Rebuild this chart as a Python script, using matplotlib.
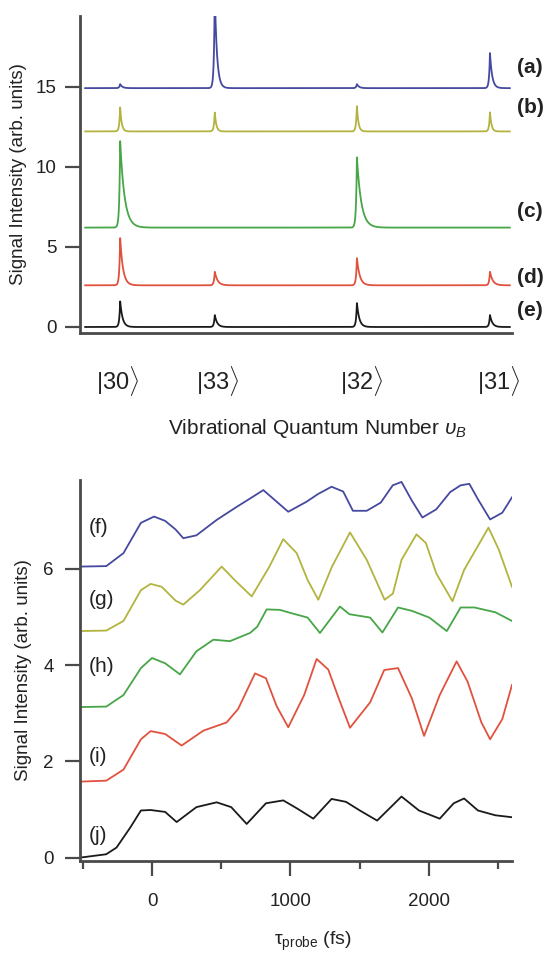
import numpy as np
import matplotlib
matplotlib.use("Agg")
import matplotlib.pyplot as plt
from matplotlib.ticker import FixedLocator

plt.rcParams['font.family'] = ['Liberation Sans', 'DejaVu Sans']
plt.rcParams['mathtext.fontset'] = 'custom'
plt.rcParams['mathtext.rm'] = 'Liberation Sans'
plt.rcParams['mathtext.it'] = 'Liberation Sans:italic'

# ---------------- data: top panel (spectra) ----------------
states = ["30", "33", "32", "31"]
state_pos = [9.3, 31.2, 64.1, 94.9]          # peak positions along detection axis (arb.)
label_pos = [8.8, 31.9, 65.3, 96.8]          # ket label positions
spec_labels = ["(a)", "(b)", "(c)", "(d)", "(e)"]
spec_offsets = [14.9, 12.2, 6.2, 2.6, 0.0]
peaks_a = [0.25, 6.0, 0.25, 2.2]
peaks_b = [1.5, 1.2, 1.6, 1.2]
peaks_c = [5.4, 0.0, 4.4, 0.0]
peaks_d = [2.95, 0.85, 1.7, 0.85]
peaks_e = [1.6, 0.75, 1.5, 0.75]
peak_tails = [0.5, 0.35, 1.0, 0.65, 0.55]
spec_label_y = [16.2, 13.7, 7.2, 3.1, 1.05]

# ---------------- data: bottom panel (transients) ----------------
f_t = [-520, -330, -206, -80, 15, 95, 171, 226, 321, 467, 611, 700, 804, 900, 984, 1117, 1200,
       1297, 1381, 1451, 1551, 1652, 1739, 1802, 1877, 1953, 2053, 2154, 2229, 2292, 2354, 2442,
       2530, 2600]
f_v = [6.05, 6.06, 6.33, 6.96, 7.09, 7.0, 6.82, 6.64, 6.70, 7.02, 7.29, 7.45, 7.64, 7.40, 7.19,
       7.40, 7.56, 7.71, 7.61, 7.21, 7.21, 7.38, 7.74, 7.81, 7.42, 7.07, 7.24, 7.6, 7.74, 7.77,
       7.45, 7.03, 7.17, 7.49]
g_t = [-520, -330, -206, -80, -10, 70, 171, 226, 346, 503, 597, 720, 848, 948, 1045, 1124, 1201,
       1300, 1430, 1551, 1680, 1740, 1802, 1910, 1978, 2053, 2170, 2254, 2430, 2505, 2600]
g_v = [4.71, 4.72, 4.92, 5.56, 5.69, 5.63, 5.34, 5.26, 5.56, 6.05, 5.77, 5.43, 6.05, 6.62, 6.33,
       5.77, 5.36, 6.05, 6.76, 6.19, 5.36, 5.49, 6.19, 6.72, 6.54, 5.91, 5.33, 5.98, 6.86, 6.40,
       5.63]
h_t = [-520, -330, -206, -80, 0, 95, 202, 321, 443, 563, 708, 760, 828, 924, 996, 1124, 1213,
       1357, 1426, 1576, 1664, 1777, 1877, 2003, 2129, 2229, 2329, 2480, 2600]
h_v = [3.13, 3.14, 3.38, 3.94, 4.15, 4.04, 3.81, 4.29, 4.53, 4.50, 4.67, 4.80, 5.16, 5.15, 5.09,
       4.99, 4.67, 5.22, 5.06, 4.99, 4.68, 5.2, 5.13, 4.99, 4.71, 5.2, 5.2, 5.1, 4.92]
i_t = [-520, -330, -206, -80, -10, 95, 214, 371, 539, 622, 744, 823, 900, 984, 1099, 1189, 1273,
       1350, 1430, 1576, 1677, 1777, 1877, 1965, 2078, 2200, 2279, 2379, 2442, 2530, 2600]
i_v = [1.58, 1.6, 1.83, 2.46, 2.63, 2.57, 2.33, 2.64, 2.81, 3.09, 3.83, 3.73, 3.15, 2.71, 3.38,
       4.13, 3.91, 3.3, 2.70, 3.23, 3.90, 3.94, 3.31, 2.53, 3.38, 4.08, 3.66, 2.81, 2.46, 2.88,
       3.59]
j_t = [-520, -331, -256, -156, -80, -10, 95, 178, 321, 467, 572, 684, 823, 948, 1049, 1165, 1297,
       1401, 1501, 1626, 1802, 1928, 2078, 2179, 2254, 2354, 2480, 2600]
j_v = [0.0, 0.07, 0.21, 0.63, 0.98, 0.99, 0.95, 0.74, 1.05, 1.15, 1.05, 0.70, 1.13, 1.19, 1.02,
       0.81, 1.22, 1.16, 0.98, 0.77, 1.27, 0.98, 0.81, 1.13, 1.23, 0.98, 0.88, 0.84]
trans_labels = ["(f)", "(g)", "(h)", "(i)", "(j)"]
trans_label_y = [6.87, 5.36, 3.98, 2.11, 0.46]

colors = ["#45499f", "#b3b33f", "#47a647", "#e0523e", "#1a1a1a"]
spine_c = "#4a4a4a"
txt_c = "#222222"

fig = plt.figure(figsize=(5.47, 9.56), dpi=100)

# ---------------- top panel ----------------
ax1 = fig.add_axes([80 / 547, 1 - 333 / 956, 432 / 547, 317 / 956])
x = np.linspace(1.2, 99.5, 5000)
all_peaks = [peaks_a, peaks_b, peaks_c, peaks_d, peaks_e]
for k, (pk, off) in enumerate(zip(all_peaks, spec_offsets)):
    y = np.full_like(x, off)
    for p0, h in zip(state_pos, pk):
        d = x - p0
        y += h * np.where(d >= 0, np.exp(-d / peak_tails[k]), np.exp(d / 0.2))
    ax1.plot(x, y, color=colors[k], lw=1.3)
    ax1.text(101.2, spec_label_y[k], spec_labels[k], fontsize=15, fontweight='bold',
             color=txt_c, va='center', ha='left', clip_on=False)
ax1.set_xlim(0, 100)
ax1.set_ylim(-0.375, 19.4)
ax1.set_yticks([0, 5, 10, 15])
ax1.set_xticks(label_pos)
ax1.set_xticklabels([r"$|$" + s + r"$\rangle$" for s in states], fontsize=17)
ax1.tick_params(axis='x', length=0, pad=22, colors=txt_c)
ax1.tick_params(axis='y', length=11, width=1.6, direction='out', pad=6, labelsize=13.5,
                color=spine_c, labelcolor=txt_c)
ax1.set_ylabel("Signal Intensity (arb. units)", fontsize=13.5, color=txt_c, labelpad=6)
ax1.set_xlabel(r"Vibrational Quantum Number $\upsilon_B$", fontsize=15, color=txt_c)
ax1.xaxis.set_label_coords(0.55, -0.265)
for s in ['top', 'right']:
    ax1.spines[s].set_visible(False)
for s in ['left', 'bottom']:
    ax1.spines[s].set_color(spine_c)
    ax1.spines[s].set_linewidth(2)

# ---------------- bottom panel ----------------
ax2 = fig.add_axes([80 / 547, 1 - 861 / 956, 432 / 547, 381 / 956])
series = [(f_t, f_v), (g_t, g_v), (h_t, h_v), (i_t, i_v), (j_t, j_v)]
for k, (tt, vv) in enumerate(series):
    ax2.plot(tt, vv, color=colors[k], lw=1.3)
    ax2.text(-455, trans_label_y[k], trans_labels[k], fontsize=15, color=txt_c,
             va='center', ha='left')
ax2.set_xlim(-520, 2600)
ax2.set_ylim(-0.07, 7.85)
ax2.set_yticks([0, 2, 4, 6])
ax2.set_xticks([0, 1000, 2000])
ax2.xaxis.set_minor_locator(FixedLocator([-500, 500, 1500, 2500]))
ax2.tick_params(axis='x', which='major', length=11, width=1.6, direction='out', pad=12,
                labelsize=13.5, color=spine_c, labelcolor=txt_c)
ax2.tick_params(axis='x', which='minor', length=6, width=1.6, direction='out', color=spine_c)
ax2.tick_params(axis='y', length=11, width=1.6, direction='out', pad=8, labelsize=13.5,
                color=spine_c, labelcolor=txt_c)
ax2.set_ylabel("Signal Intensity (arb. units)", fontsize=13.5, color=txt_c, labelpad=8)
ax2.set_xlabel("τ$_{\\rm probe}$ (fs)", fontsize=14, color=txt_c)
ax2.xaxis.set_label_coords(0.54, -0.18)
for s in ['top', 'right']:
    ax2.spines[s].set_visible(False)
for s in ['left', 'bottom']:
    ax2.spines[s].set_color(spine_c)
    ax2.spines[s].set_linewidth(2)

fig.savefig("out.png", dpi=100)
